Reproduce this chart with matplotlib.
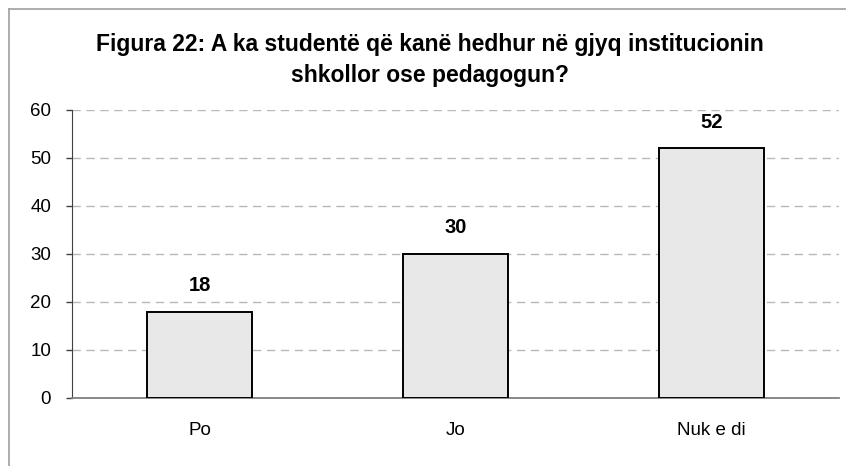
import matplotlib.pyplot as plt
from matplotlib.lines import Line2D

plt.rcParams['font.family'] = ['Liberation Sans', 'DejaVu Sans']

# data
categories = ["Po", "Jo", "Nuk e di"]
values = [18, 30, 52]
title = "Figura 22: A ka studentë që kanë hedhur në gjyq institucionin\nshkollor ose pedagogun?"

fig = plt.figure(figsize=(8.46, 4.66), dpi=100)
ax = fig.add_axes([72 / 846, 1 - 398 / 466, (839 - 72) / 846, (398 - 110) / 466])

x = list(range(len(categories)))
bars = ax.bar(x, values, width=0.41, color="#e8e8e8", edgecolor="black", linewidth=1.4, zorder=3)

for b, v in zip(bars, values):
    ax.annotate(str(v), (b.get_x() + b.get_width() / 2, v), xytext=(0, 12),
                textcoords="offset points", ha="center", va="bottom",
                fontsize=14.5, fontweight="bold")

ax.set_xlim(-0.5, 2.5)
ax.set_ylim(0, 60)
ax.set_yticks(range(0, 61, 10))
ax.set_xticks(x)
ax.set_xticklabels(categories)
ax.tick_params(axis="y", direction="out", length=4, width=1, color="#404040", labelsize=13.5, pad=11)
ax.tick_params(axis="x", length=0, labelsize=13.5, pad=17)

ax.yaxis.grid(True, linestyle=(0, (6, 4)), color="#b8b8b8", linewidth=1, zorder=0)
ax.set_axisbelow(True)

for s in ["top", "right"]:
    ax.spines[s].set_visible(False)
ax.spines["left"].set_color("#404040")
ax.spines["bottom"].set_color("#808080")
ax.spines["bottom"].set_linewidth(1.3)

fig.text(0.508, 1 - 60 / 466, title, ha="center", va="center", fontsize=16.5,
         fontweight="bold", linespacing=1.4)

# outer frame (left and top only visible)
fig.add_artist(Line2D([9 / 846, 9 / 846], [0, 1 - 9 / 466], color="#a0a0a0", lw=1.2))
fig.add_artist(Line2D([9 / 846, 1], [1 - 9 / 466, 1 - 9 / 466], color="#a0a0a0", lw=1.2))

fig.savefig("out.png", dpi=100)
